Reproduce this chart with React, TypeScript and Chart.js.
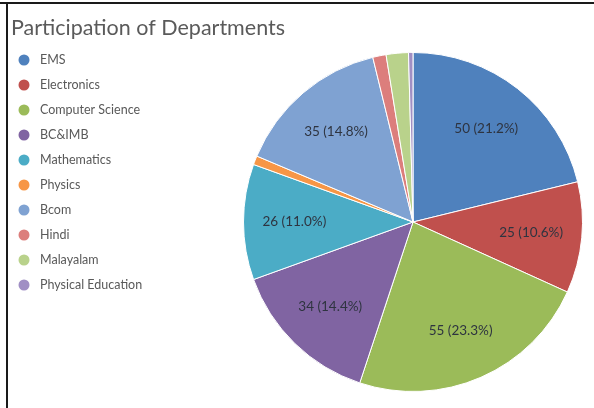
import React, { useEffect, useRef } from "react";
import { Chart, registerables } from "chart.js";

Chart.register(...registerables);

const titleText = "Participation of Departments";
const categories = [
  "EMS",
  "Electronics",
  "Computer Science",
  "BC&IMB",
  "Mathematics",
  "Physics",
  "Bcom",
  "Hindi",
  "Malayalam",
  "Physical Education",
];
const participants = [50, 25, 55, 34, 26, 2, 35, 3, 5, 1];
const sliceColors = [
  "#4F81BD",
  "#C0504D",
  "#9BBB59",
  "#8064A2",
  "#4BACC6",
  "#F79646",
  "#7FA2D2",
  "#DC7E7C",
  "#B9D28B",
  "#A08FC4",
];
const labelMinShare = 0.05;

const FONT = "Lato, 'Open Sans', 'DejaVu Sans', sans-serif";

const overlayPlugin = {
  id: "overlay",
  afterDraw(chart: any) {
    const ctx = chart.ctx;
    ctx.save();
    // frame lines (top and left)
    ctx.strokeStyle = "#1a1a1a";
    ctx.lineWidth = 2;
    ctx.beginPath();
    ctx.moveTo(0, 3);
    ctx.lineTo(chart.width, 3);
    ctx.moveTo(7, 2);
    ctx.lineTo(7, chart.height);
    ctx.stroke();

    // title
    ctx.fillStyle = "#5a5a5a";
    ctx.font = `21.5px ${FONT}`;
    ctx.textAlign = "left";
    ctx.textBaseline = "alphabetic";
    ctx.fillText(titleText, 11, 35);

    // legend
    const labels = chart.data.labels as string[];
    const colors = chart.data.datasets[0].backgroundColor as string[];
    ctx.font = `12.5px ${FONT}`;
    ctx.textBaseline = "middle";
    labels.forEach((lab, i) => {
      const y = 60 + i * 25;
      ctx.fillStyle = colors[i];
      ctx.beginPath();
      ctx.arc(24, y, 5.5, 0, Math.PI * 2);
      ctx.fill();
      ctx.fillStyle = "#595959";
      ctx.fillText(lab, 40, y);
    });

    // slice labels
    const meta = chart.getDatasetMeta(0);
    const data = chart.data.datasets[0].data as number[];
    const total = data.reduce((a, b) => a + b, 0);
    ctx.font = `13.5px ${FONT}`;
    ctx.textAlign = "center";
    ctx.textBaseline = "middle";
    ctx.fillStyle = "#2e3440";
    meta.data.forEach((arc: any, i: number) => {
      const share = data[i] / total;
      if (share < labelMinShare) return;
      const mid = (arc.startAngle + arc.endAngle) / 2;
      const r = arc.outerRadius * 0.7;
      const x = arc.x + Math.cos(mid) * r;
      const y = arc.y + Math.sin(mid) * r;
      ctx.fillText(`${data[i]} (${(share * 100).toFixed(1)}%)`, x, y);
    });
    ctx.restore();
  },
};

export default function App() {
  const ref = useRef<HTMLCanvasElement>(null);
  useEffect(() => {
    if (!ref.current) return;
    const chart = new Chart(ref.current, {
      type: "pie",
      data: {
        labels: categories,
        datasets: [
          {
            data: participants,
            backgroundColor: sliceColors,
            borderColor: "#ffffff",
            borderWidth: 1,
          },
        ],
      },
      options: {
        responsive: false,
        animation: false,
        layout: { padding: { left: 243, right: 11, top: 52, bottom: 16 } },
        plugins: {
          legend: { display: false },
          title: { display: false },
          tooltip: { enabled: false },
        },
      },
      plugins: [overlayPlugin],
    });
    return () => chart.destroy();
  }, []);
  return (
    <div style={{ position: "fixed", left: 0, top: 0, width: 594, height: 408, background: "#fff" }}>
      <canvas ref={ref} width={594} height={408} />
    </div>
  );
}
